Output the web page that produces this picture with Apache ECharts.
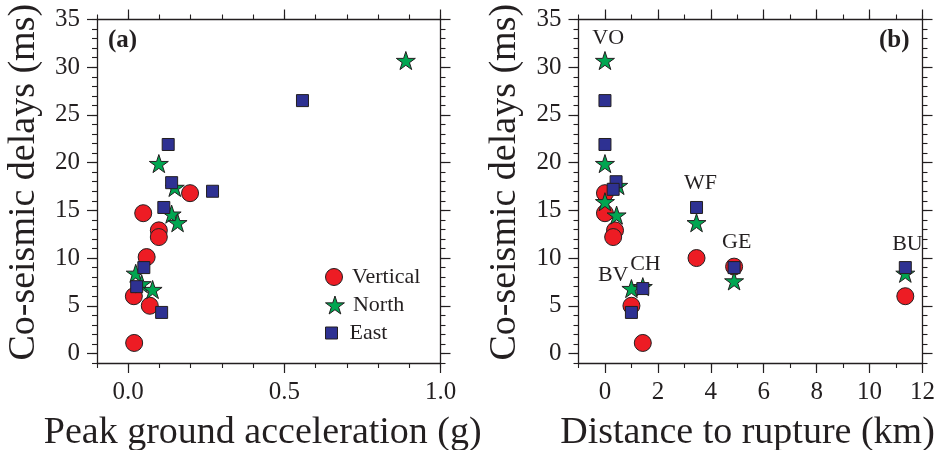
<!DOCTYPE html>
<html>
<head>
<meta charset="utf-8">
<script src="https://cdn.jsdelivr.net/npm/echarts@6/dist/echarts.min.js"></script>
<style>
  html, body { margin: 0; padding: 0; background: #fff; }
  #chart { width: 938px; height: 450px; }
</style>
</head>
<body>
<div id="chart"></div>
<script>
// Panel (a): peak ground acceleration (g) vs co-seismic delay (ms)
const pgaVertical = [[0.019, 1.1], [0.018, 6.0], [0.069, 5.0], [0.059, 10.1], [0.098, 12.9], [0.098, 12.2], [0.048, 14.7], [0.198, 16.8]];
const pgaNorth = [[0.889, 30.7], [0.098, 19.9], [0.149, 17.4], [0.139, 14.6], [0.158, 13.7], [0.024, 8.4], [0.043, 7.3], [0.078, 6.7]];
const pgaEast = [[0.558, 26.5], [0.128, 21.9], [0.139, 17.9], [0.270, 17.0], [0.114, 15.3], [0.050, 9.0], [0.027, 7.0], [0.107, 4.3]];

// Panel (b): distance to rupture (km) vs co-seismic delay (ms)
const distVertical = [[0, 16.8], [0, 14.7], [0.38, 12.9], [0.31, 12.2], [1.0, 5.0], [1.43, 1.1], [3.46, 10.0], [4.88, 9.1], [11.35, 6.0]];
const distNorth = [[0, 30.7], [0, 19.9], [0.5, 17.6], [0, 15.9], [0.44, 14.5], [1.0, 6.8], [1.43, 7.0], [3.46, 13.7], [4.88, 7.6], [11.35, 8.4]];
const distEast = [[0, 26.5], [0, 21.9], [0.42, 18.0], [0.31, 17.2], [1.0, 4.3], [1.43, 6.8], [3.46, 15.3], [4.88, 9.0], [11.35, 9.0]];

// Station names written beside their groups in panel (b): [km, ms, name]
const stationTags = [[0.12, 33.0, 'VO'], [0.31, 8.15, 'BV'], [1.53, 9.35, 'CH'], [3.61, 17.8, 'WF'], [4.98, 11.65, 'GE'], [11.43, 11.45, 'BU']];

// Tick labels
const delayTicks = [0, 5, 10, 15, 20, 25, 30, 35];
const pgaTicks = [0, 0.5, 1.0];
const distTicks = [0, 2, 4, 6, 8, 10, 12];

const INK = '#231f20';
const SERIF = '"Liberation Serif", "Times New Roman", serif';
const RED = '#ed1c24', GREEN = '#00a651', BLUE = '#2e3192';
// five-pointed star, about 19 units across
const STAR = 'path://M9.5,0L11.63,6.56L18.53,6.56L12.95,10.62L15.08,17.19L9.5,13.13L3.92,17.19L6.05,10.62L0.47,6.56L7.37,6.56Z';
const SQUARE = 'path://M0,0L12,0L12,12L0,12Z';

// One side of a panel frame: a major-tick axis plus a minor-tick axis laid over it
function side(gridIndex, position, min, max, majors, minorStep, labels, name, namePadding) {
  const common = {
    type: 'value', gridIndex, position, min, max,
    splitLine: { show: false }
  };
  const major = Object.assign({}, common, {
    axisLine: { show: true, onZero: false, lineStyle: { color: INK, width: 1.3 } },
    axisTick: { show: true, inside: false, length: 10, customValues: majors, lineStyle: { color: INK, width: 1.2 } },
    axisLabel: labels ? {
      show: true, customValues: majors, formatter: labels, margin: 17,
      color: INK, fontSize: 25, fontFamily: SERIF
    } : { show: false }
  });
  if (name) {
    major.name = name;
    major.nameLocation = 'middle';
    major.nameGap = (position === 'left') ? 54 : 51;
    major.nameTextStyle = { color: INK, fontSize: 38, fontFamily: SERIF, padding: namePadding };
  }
  const minor = Object.assign({}, common, {
    interval: minorStep,
    axisLine: { show: false, onZero: false },
    axisTick: { show: true, inside: false, length: 5, lineStyle: { color: INK, width: 1.1 } },
    axisLabel: { show: false }
  });
  return [major, minor];
}

const xAxes = [].concat(
  side(0, 'bottom', -0.1, 1.0, pgaTicks, 0.1, v => v.toFixed(1), 'Peak ground acceleration (g)', [0, 12, 0, 0]),
  side(0, 'top', -0.1, 1.0, pgaTicks, 0.1, null, null),
  side(1, 'bottom', -1, 12, distTicks, 1, v => String(v), 'Distance to rupture (km)', [0, 6, 0, 0]),
  side(1, 'top', -1, 12, distTicks, 1, null, null)
);
const yAxes = [].concat(
  side(0, 'left', -1, 35, delayTicks, 1, v => String(v), 'Co-seismic delays (ms)', [0, 0, 0, 18]),
  side(0, 'right', -1, 35, delayTicks, 1, null, null),
  side(1, 'left', -1, 35, delayTicks, 1, v => String(v), 'Co-seismic delays (ms)', [0, 0, 0, 18]),
  side(1, 'right', -1, 35, delayTicks, 1, null, null)
);

const looks = {
  Vertical: { symbol: 'circle', symbolSize: 17, color: RED, icon: 'circle', iconH: 17 },
  North: { symbol: STAR, symbolSize: 19, color: GREEN, icon: STAR, iconH: 18 },
  East: { symbol: 'rect', symbolSize: 12, color: BLUE, icon: SQUARE, iconH: 12 }
};

function markers(name, data, panel) {
  const s = looks[name];
  return {
    type: 'scatter', name, data,
    xAxisIndex: panel * 4, yAxisIndex: panel * 4,
    symbol: s.symbol, symbolSize: s.symbolSize, symbolKeepAspect: true,
    itemStyle: { color: s.color, opacity: 1, borderColor: INK, borderWidth: 1 },
    emphasis: { disabled: true }, silent: true
  };
}

function legendRow(name, top) {
  const s = looks[name];
  return {
    data: [{ name, icon: s.icon }], orient: 'vertical', left: 325, top, padding: 0,
    itemWidth: 26, itemHeight: s.iconH, selectedMode: false,
    itemStyle: { color: s.color, borderColor: INK, borderWidth: 1, opacity: 1 },
    textStyle: { color: INK, fontSize: 22, fontFamily: SERIF }
  };
}

const chart = echarts.init(document.getElementById('chart'), null, { renderer: 'canvas' });
chart.setOption({
  animation: false,
  backgroundColor: '#fff',
  grid: [
    { left: 97, top: 19.5, width: 343.5, height: 343.5, outerBoundsMode: 'none', containLabel: false },
    { left: 578.5, top: 19.5, width: 344, height: 343.5, outerBoundsMode: 'none', containLabel: false }
  ],
  xAxis: xAxes,
  yAxis: yAxes,
  legend: [legendRow('Vertical', 266), legendRow('North', 294), legendRow('East', 322)],
  graphic: [
    { type: 'text', left: 108, top: 28, style: { text: '(a)', font: 'bold 25px ' + SERIF, fill: INK } },
    { type: 'text', left: 879, top: 28, style: { text: '(b)', font: 'bold 25px ' + SERIF, fill: INK } }
  ],
  series: [
    markers('Vertical', pgaVertical, 0),
    markers('North', pgaNorth, 0),
    markers('East', pgaEast, 0),
    markers('Vertical', distVertical, 1),
    markers('North', distNorth, 1),
    markers('East', distEast, 1),
    {
      type: 'scatter', name: 'stations', data: stationTags,
      xAxisIndex: 4, yAxisIndex: 4, symbolSize: 0, silent: true, z: 5,
      itemStyle: { opacity: 1 },
      label: {
        show: true, position: 'inside', formatter: p => p.data[2],
        color: INK, opacity: 1, fontSize: 22, fontFamily: SERIF
      }
    }
  ]
});
</script>
</body>
</html>
